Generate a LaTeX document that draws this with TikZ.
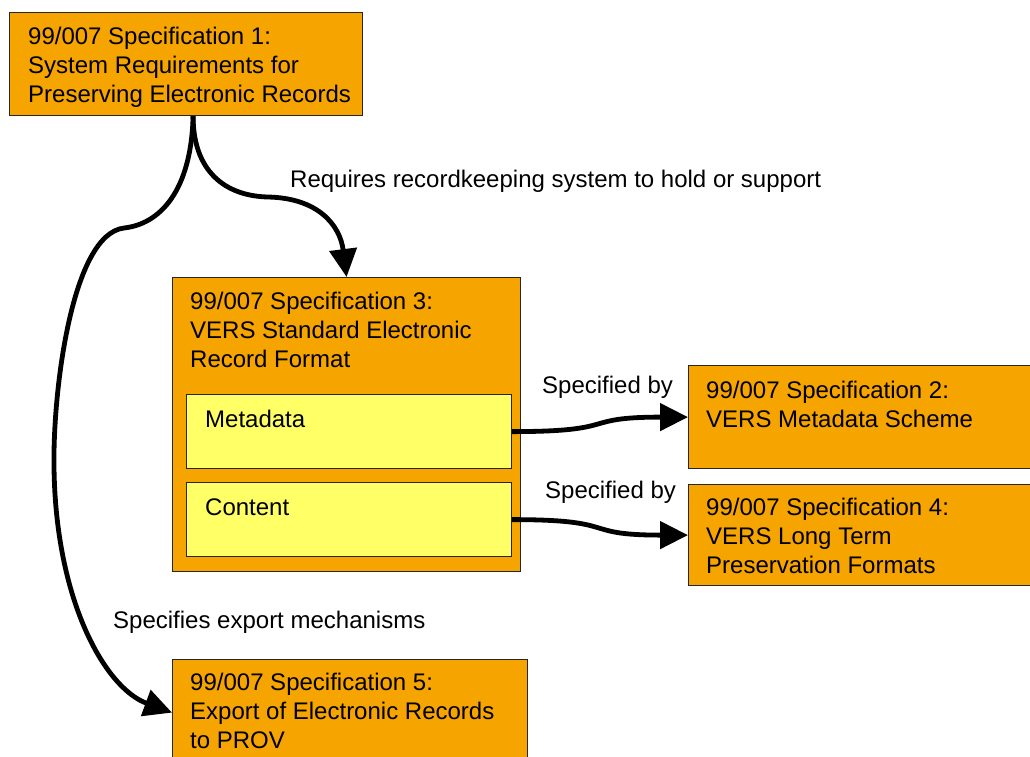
\documentclass[tikz,border=0pt]{standalone}
\usepackage{fontspec}
\setmainfont{Liberation Sans}
\usetikzlibrary{arrows.meta,calc}
\definecolor{specorange}{RGB}{245,164,0}
\definecolor{specyellow}{RGB}{255,255,102}
\tikzset{
  orangebox/.style={draw=black!85, line width=1.2pt, fill=specorange, inner sep=0pt, anchor=north west},
  yellowbox/.style={draw=black!85, line width=1.2pt, fill=specyellow, inner sep=0pt, anchor=north west},
  boxtext/.style={anchor=base west, inner sep=0pt, align=left, font=\fontsize{24}{29}\selectfont},
  lbl/.style={anchor=base west, inner sep=0pt, font=\fontsize{24}{29}\selectfont},
  conn/.style={line width=4.8pt, -{Triangle[length=28pt,width=27pt]}},
}
\begin{document}
\begin{tikzpicture}[x=1pt,y=-1pt]
\useasboundingbox (0,0) rectangle (1030,756);
\clip (0,0) rectangle (1030,756);
% boxes
\node[orangebox, minimum width=353pt, minimum height=103pt] (s1) at (9,12) {};
\node[orangebox, minimum width=348pt, minimum height=294pt] (s3) at (172,277) {};
\node[yellowbox, minimum width=325pt, minimum height=74pt] (md) at (186,394) {};
\node[yellowbox, minimum width=325pt, minimum height=74pt] (ct) at (186,482) {};
\node[orangebox, minimum width=360pt, minimum height=103pt] (s2) at (688,365) {};
\node[orangebox, minimum width=360pt, minimum height=101pt] (s4) at (688,484) {};
\node[orangebox, minimum width=355pt, minimum height=106pt] (s5) at (172,659) {};
% box texts (base anchor = baseline of the last line)
\node[boxtext] (t1) at ($(s1.north west)+(19,90)$) {99/007 Specification 1:\\System Requirements for\\Preserving Electronic Records};
\node[boxtext] (t3) at ($(s3.north west)+(18,90)$) {99/007 Specification 3:\\VERS Standard Electronic\\Record Format};
\node[boxtext] (tmd) at ($(md.north west)+(19,33)$) {Metadata};
\node[boxtext] (tct) at ($(ct.north west)+(19,33)$) {Content};
\node[boxtext] (t2) at ($(s2.north west)+(18,62)$) {99/007 Specification 2:\\VERS Metadata Scheme};
\node[boxtext] (t4) at ($(s4.north west)+(18,89)$) {99/007 Specification 4:\\VERS Long Term\\Preservation Formats};
\node[boxtext] (t5) at ($(s5.north west)+(18,89)$) {99/007 Specification 5:\\Export of Electronic Records\\to PROV};
% labels
\node[lbl] (l1) at (290,187) {Requires recordkeeping system to hold or support};
\node[lbl] (l2) at (542,393) {Specified by};
\node[lbl] (l3) at (545,498) {Specified by};
\node[lbl] (l4) at (113,628) {Specifies export mechanisms};
% connectors
\coordinate (src) at ([xshift=7pt]s1.south);
\draw[conn] (src) .. controls +(0,55) and (225,196) .. (268,197)
  .. controls (318,198) and (340,225) .. (s3.north);
\draw[conn] (src) .. controls +(-2,75) and (160,224) .. (124,228)
  .. controls (72,234) and (53,390) .. (54,465)
  .. controls (55,600) and (105,688) .. (s5.west);
\draw[conn] (md.east) .. controls +(110,0) and +(-110,0) .. (s2.west);
\draw[conn] (ct.east) .. controls +(110,0) and +(-110,0) .. (s4.west);
\end{tikzpicture}
\end{document}
